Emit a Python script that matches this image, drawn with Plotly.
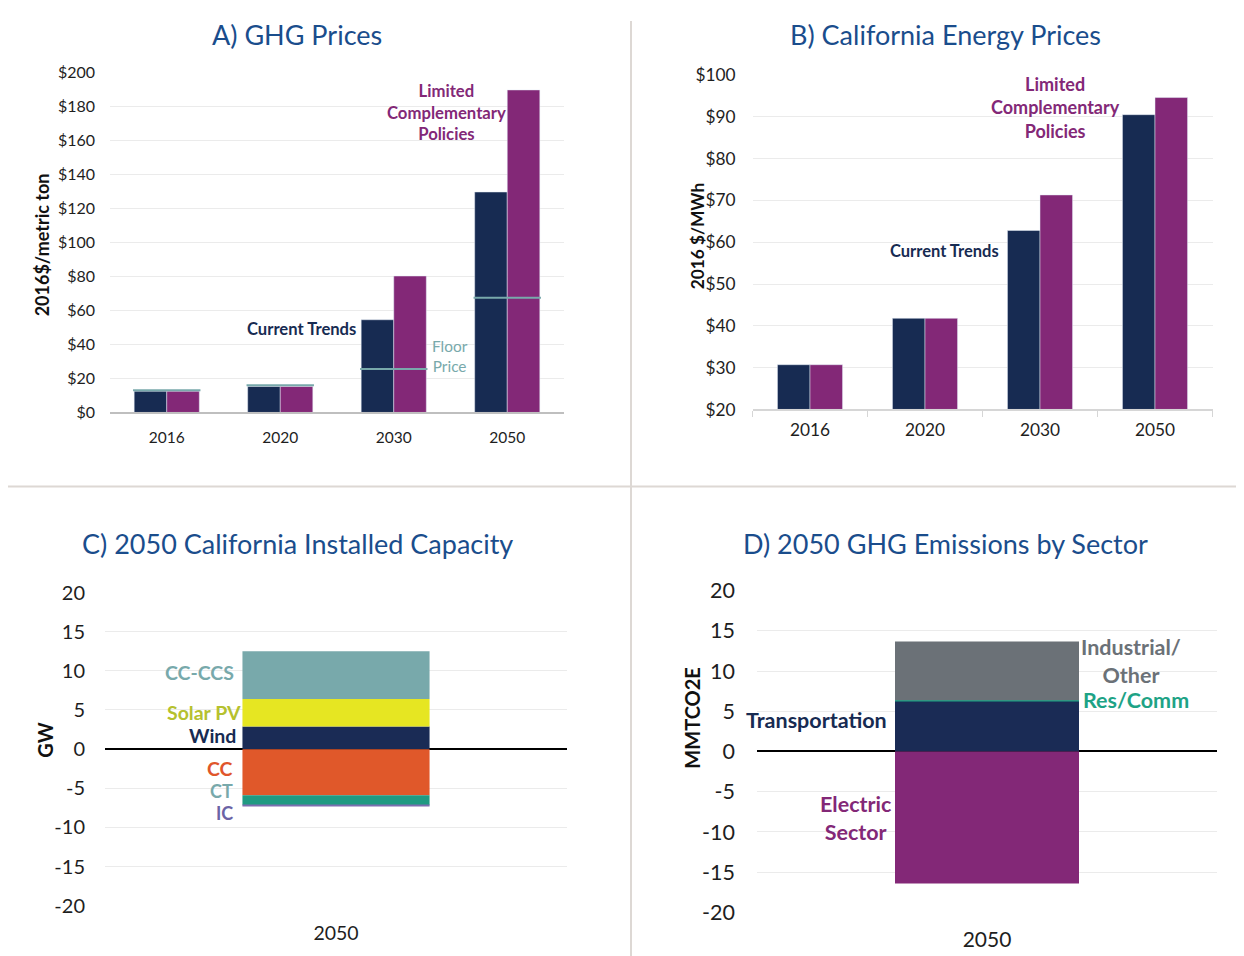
import plotly.graph_objects as go

# page body has an 8px margin; the photographed picture maps page y -> 13 + 0.9724*y,
# so positions measured on the reference are converted back to page pixels below
OX, OY = 8, 8
KY, CY = 0.9724, 13.0
W, H = 1228, 962

# ---------------- data ----------------
years = ["2016", "2020", "2030", "2050"]
ghg_current = [12.5, 15.3, 54.5, 129.6]
ghg_limited = [12.5, 15.3, 80.2, 189.6]
ghg_floor = [13.0, 16.0, 25.5, 67.5]

energy_current = [30.7, 41.8, 62.8, 90.5]
energy_limited = [30.7, 41.8, 71.3, 94.6]

cap_year = ["2050"]
cap_names = ["Wind", "Solar PV", "CC-CCS", "CC", "CT", "IC"]
cap_values = [2.9, 3.5, 6.1, -5.9, -1.25, -0.15]

ems_year = ["2050"]
ems_names = ["Transportation", "Res/Comm", "Industrial/Other", "Electric Sector"]
ems_values = [6.3, 0.08, 7.3, -16.4]

gw_ticks = [20, 15, 10, 5, 0, -5, -10, -15, -20]
gw_ticktext = ["20", "15", "10", "5", "0", "-5", "-10", "-15", "-20"]

# ---------------- styles ----------------
NAVY = "#172b52"
PURPLE = "#832877"
TEAL = "#78a9ab"
TITLE = "#1a4d8c"
cap_colors = ["#1a2b55", "#e6e622", "#78a9ab", "#e0582a", "#1f9a82", "#7b6fb0"]
ems_colors = ["#1a2b55", "#1ea386", "#6b7177", "#832877"]
FONT = "Lato, 'Open Sans', sans-serif"


def px(x):
    return (x - OX) / W


def py(y):
    page_y = (y - CY) / KY
    return 1 - (page_y - OY) / H


fig = go.Figure()

# Panel A
bw_a = 0.287
fig.add_trace(go.Bar(x=years, y=ghg_current, marker_color=NAVY, width=bw_a, offset=-bw_a,
                     offsetgroup="a1", xaxis="x", yaxis="y", showlegend=False))
fig.add_trace(go.Bar(x=years, y=ghg_limited, marker_color=PURPLE, width=bw_a, offset=0,
                     offsetgroup="a2", xaxis="x", yaxis="y", showlegend=False))
for i, v in enumerate(ghg_floor):
    fig.add_shape(type="line", xref="x", yref="y", x0=i - bw_a - 0.01, x1=i + bw_a + 0.01,
                  y0=v, y1=v, line=dict(color=TEAL, width=2))

# Panel B
bw_b = 0.283
fig.add_trace(go.Bar(x=years, y=[v - 20 for v in energy_current], base=20, marker_color=NAVY,
                     width=bw_b, offset=-bw_b, offsetgroup="b1", xaxis="x2", yaxis="y2",
                     showlegend=False))
fig.add_trace(go.Bar(x=years, y=[v - 20 for v in energy_limited], base=20, marker_color=PURPLE,
                     width=bw_b, offset=0, offsetgroup="b2", xaxis="x2", yaxis="y2",
                     showlegend=False))

# Panel C
for name, val, col in zip(cap_names, cap_values, cap_colors):
    fig.add_trace(go.Bar(x=cap_year, y=[val], name=name, marker_color=col, width=0.405,
                         marker_line_width=0, xaxis="x3", yaxis="y3", showlegend=False))

# Panel D
for name, val, col in zip(ems_names, ems_values, ems_colors):
    fig.add_trace(go.Bar(x=ems_year, y=[val], name=name, marker_color=col, width=0.4,
                         marker_line_width=0, xaxis="x4", yaxis="y4", showlegend=False))

tickfont = dict(family=FONT, color="#1e1e1e")
grid = "#ebebeb"

fig.update_layout(
    width=W, height=H, margin=dict(l=0, r=0, t=0, b=0),
    paper_bgcolor="white", plot_bgcolor="white",
    barmode="relative",
    font=dict(family=FONT),
    xaxis=dict(domain=[px(110), px(564)], anchor="y", showgrid=False, showline=True,
               linecolor="#bfbfbf", linewidth=1.5, tickfont=dict(size=15.5, **tickfont),
               ticklabelstandoff=10),
    yaxis=dict(domain=[py(412), py(72)], anchor="x", range=[0, 200], dtick=20,
               tickprefix="$", gridcolor=grid, zeroline=False,
               tickfont=dict(size=16, **tickfont), ticklabelstandoff=14),
    xaxis2=dict(domain=[px(752.5), px(1212.5)], anchor="y2", showgrid=False, showline=True,
                linecolor="#d6d6d6", linewidth=1.5, ticks="outside", tickson="boundaries",
                tickcolor="#d6d6d6", ticklen=6, tickfont=dict(size=17.3, **tickfont),
                ticklabelstandoff=4),
    yaxis2=dict(domain=[py(409), py(74.7)], anchor="x2", range=[20, 100], dtick=10,
                tickprefix="$", gridcolor=grid, zeroline=False,
                tickfont=dict(size=17.3, **tickfont), ticklabelstandoff=16),
    xaxis3=dict(domain=[px(105), px(567)], anchor="y3", showgrid=False, showline=False,
                tickfont=dict(size=19.5, **tickfont), ticklabelstandoff=14),
    yaxis3=dict(domain=[py(905), py(592)], anchor="x3", range=[-20, 20],
                tickvals=gw_ticks, ticktext=gw_ticktext,
                gridcolor=grid, zeroline=True, zerolinecolor="black", zerolinewidth=1.5,
                tickfont=dict(size=20, **tickfont), ticklabelstandoff=19),
    xaxis4=dict(domain=[px(757), px(1217)], anchor="y4", showgrid=False, showline=False,
                tickfont=dict(size=21, **tickfont), ticklabelstandoff=13),
    yaxis4=dict(domain=[py(911.7), py(590)], anchor="x4", range=[-20, 20],
                tickvals=gw_ticks, ticktext=gw_ticktext,
                gridcolor=grid, zeroline=True, zerolinecolor="black", zerolinewidth=1.5,
                tickfont=dict(size=21.5, **tickfont), ticklabelstandoff=21),
)

# divider lines
fig.add_shape(type="line", xref="paper", yref="paper", x0=px(631), x1=px(631),
              y0=min(1.0, py(6)), y1=0, line=dict(color="#ddd8d4", width=2))
fig.add_shape(type="line", xref="paper", yref="paper", x0=px(8), x1=1, y0=py(486), y1=py(486),
              line=dict(color="#ddd8d4", width=2))

ann = []


def add(text, x, y, size, color, bold=False, xanchor="center", angle=0, family=FONT):
    ann.append(dict(text=f"<b>{text}</b>" if bold else text, x=px(x), y=py(y), xref="paper",
                    yref="paper", xanchor=xanchor, yanchor="middle", showarrow=False,
                    textangle=angle, font=dict(size=size, color=color, family=family)))


# titles
add("A) GHG Prices", 297, 34, 27, TITLE)
add("B) California Energy Prices", 945, 34, 27, TITLE)
add("C) 2050 California Installed Capacity", 297, 543, 27, TITLE)
add("D) 2050 GHG Emissions by Sector", 945, 543, 27, TITLE)

# axis titles
add("2016$/metric ton", 42, 245, 18, "#111111", bold=True, angle=-90)
add("2016 $/MWh", 697, 236, 17.3, "#111111", bold=True, angle=-90)
add("GW", 45, 740, 20, "#111111", bold=True, angle=-90)
add("MMTCO2E", 692, 717, 20, "#111111", bold=True, angle=-90)

# panel A labels
add("Limited<br>Complementary<br>Policies", 446, 112, 16.7, PURPLE, bold=True)
add("Current Trends", 301, 329, 16.6, NAVY, bold=True)
add("Floor<br>Price", 450, 356, 15.4, TEAL)

# panel B labels
add("Limited<br>Complementary<br>Policies", 1055, 107, 18, PURPLE, bold=True)
add("Current Trends", 944, 251, 16.5, NAVY, bold=True)

# panel C labels
add("CC-CCS", 236, 672, 19.5, "#78a9ab", bold=True, xanchor="right")
add("Solar PV", 243, 712, 19.5, "#b5c12e", bold=True, xanchor="right")
add("Wind", 238, 735, 19.5, NAVY, bold=True, xanchor="right")
add("CC", 235, 768, 19.5, "#e0562b", bold=True, xanchor="right")
add("CT", 235, 790, 18, "#78a9ab", bold=True, xanchor="right")
add("IC", 235, 812, 18, "#6b63a6", bold=True, xanchor="right")

# panel D labels
add("Industrial/<br>Other", 1131, 660, 21.5, "#6b7177", bold=True)
add("Res/Comm", 1136, 699, 21.5, "#1ea386", bold=True)
add("Transportation", 889, 719, 21.5, NAVY, bold=True, xanchor="right")
add("Electric<br>Sector", 856, 817, 21.5, PURPLE, bold=True)

fig.update_layout(annotations=ann)

fig.write_html("out.html")
